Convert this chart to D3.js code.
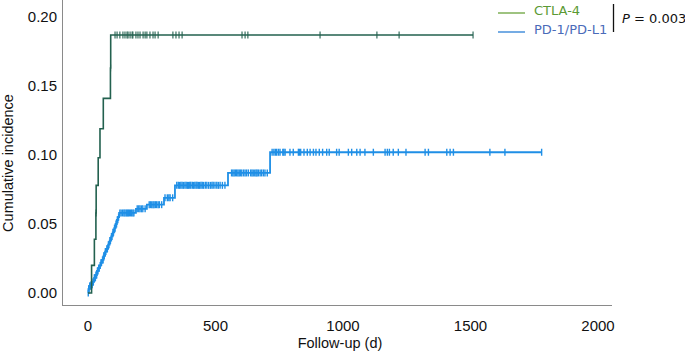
<!DOCTYPE html>
<html>
<head>
<meta charset="utf-8">
<script src="https://cdn.jsdelivr.net/npm/d3@7"></script>
<style>
  body { margin: 0; background: #fff; }
  svg { display: block; }
  .tick-lab { font-family: "Liberation Sans", Arial, sans-serif; font-size: 15px; fill: #111; }
  .ax-title { font-family: "Liberation Sans", Arial, sans-serif; font-size: 14.5px; fill: #111; }
  .leg { font-family: "DejaVu Sans", Verdana, sans-serif; font-size: 13px; }
</style>
</head>
<body>
<div id="plot"></div>
<script>
const w = 685,
      h = 355

// tick values
const xTicks = [0, 500, 1000, 1500, 2000],
      yTicks = [0, 0.05, 0.10, 0.15, 0.20]

// CTLA-4: event days and cumulative incidence after each event
const ctlaDays = [0, 14, 25, 31, 32, 40, 47, 60, 88, 89],
      ctlaInc = [0, 0.020, 0.039, 0.058, 0.078, 0.098, 0.119, 0.141, 0.163, 0.187],
      ctlaEnd = 1510,
      ctlaCensor = [31.5, 88.5, 106, 114, 125, 137, 145, 153, 157, 165, 173, 176, 188, 196, 204, 216, 224, 231,
                    243, 255, 263, 275, 333, 345, 357, 369, 604, 616, 627, 910, 1133, 1220, 1510]

// PD-1/PD-L1
const pdDays = [0, 2, 6, 12, 18, 24, 30, 35, 40, 45, 50, 55, 61, 67, 73, 79, 85, 91, 97, 103, 108, 113, 118, 122,
                188, 231, 298, 341, 549, 714],
      pdInc = [0, 0.003, 0.005, 0.006, 0.008, 0.011, 0.013, 0.016, 0.018, 0.020, 0.022, 0.024, 0.027, 0.030, 0.032,
               0.035, 0.038, 0.041, 0.044, 0.047, 0.050, 0.053, 0.055, 0.058,
               0.061, 0.064, 0.069, 0.078, 0.087, 0.102],
      pdEnd = 1779,
      pdCensor = [1, 3, 4, 7, 8, 11, 12, 15, 16, 20, 21, 25, 26, 29, 31, 34, 37, 39, 42, 44, 48, 51, 53, 57, 59, 62,
                  64, 68, 70, 74, 76, 80, 82, 86, 88, 92, 94, 98, 100, 104, 106, 110, 112, 115, 117, 120,
                  125, 130, 136, 141, 145, 150, 154, 158, 162, 167, 171, 176, 180,
                  193, 199, 204, 210, 215, 224,
                  240, 245, 250, 255, 259, 264, 269, 275, 280, 289,
                  302, 311, 317, 322, 332,
                  348, 354, 359, 364, 369, 374, 380, 385, 390, 394, 399, 403, 409, 414, 419, 424, 428, 433, 438,
                  443, 448, 453, 460, 466, 473, 480, 486, 491, 498, 505, 511, 518, 527, 537,
                  563, 568, 573, 578, 583, 588, 593, 598, 603, 610, 616, 622, 629, 638, 643, 648, 654, 659, 663,
                  668, 675, 681, 688, 694, 703,
                  722, 729, 735, 740, 747, 753, 764, 768, 773, 792, 805, 825, 829, 834, 847, 860, 871, 884, 894,
                  907, 920, 936, 946, 975, 985, 1021, 1034, 1054, 1067, 1086, 1119, 1165, 1174, 1182, 1197,
                  1217, 1247, 1322, 1335, 1407, 1420, 1433, 1576, 1635, 1779]

const x = d3.scaleLinear().domain([0, 2000]).range([88, 598]),
      y = d3.scaleLinear().domain([0, 0.2]).range([293, 17])

const svg = d3.select("#plot").append("svg")
  .attr("width", w)
  .attr("height", h)

// frame lines (left + bottom)
svg.append("line")
  .attr("x1", 62.5).attr("x2", 62.5).attr("y1", 0).attr("y2", 305.5)
  .attr("stroke", "#8a8a8a").attr("stroke-width", 1)
svg.append("line")
  .attr("x1", 62).attr("x2", 612).attr("y1", 305.5).attr("y2", 305.5)
  .attr("stroke", "#8a8a8a").attr("stroke-width", 1)

// tick labels
svg.selectAll(".ylab").data(yTicks).enter().append("text")
  .attr("class", "tick-lab")
  .attr("x", 57)
  .attr("y", d => y(d))
  .attr("dy", "0.36em")
  .attr("text-anchor", "end")
  .text(d => d3.format(".2f")(d))

svg.selectAll(".xlab").data(xTicks).enter().append("text")
  .attr("class", "tick-lab")
  .attr("x", d => x(d))
  .attr("y", 331)
  .attr("text-anchor", "middle")
  .text(d => d)

svg.append("text")
  .attr("class", "ax-title")
  .attr("x", 340).attr("y", 348)
  .attr("text-anchor", "middle")
  .text("Follow-up (d)")

svg.append("text")
  .attr("class", "ax-title")
  .attr("transform", "translate(13,163) rotate(-90)")
  .attr("text-anchor", "middle")
  .text("Cumulative incidence")

// step curve helper
const stepPts = (days, inc, end) => {
  const pts = days.map((d, i) => [d, inc[i]])
  pts.push([end, inc[inc.length - 1]])
  return pts
}
const valueAt = (days, inc, t) => {
  let v = inc[0]
  for (let i = 0; i < days.length; i++) if (days[i] <= t) v = inc[i]
  return v
}
const line = d3.line().x(d => x(d[0])).y(d => y(d[1])).curve(d3.curveStepAfter)

const series = [
  {days: pdDays, inc: pdInc, end: pdEnd, censor: pdCensor, color: "#1f8fe6", lw: 1.8, cw: 1.4},
  {days: ctlaDays, inc: ctlaInc, end: ctlaEnd, censor: ctlaCensor, color: "#23614f", lw: 1.6, cw: 1.1}
]

series.forEach(s => {
  svg.append("path")
    .datum(stepPts(s.days, s.inc, s.end))
    .attr("fill", "none")
    .attr("stroke", s.color)
    .attr("stroke-width", s.lw)
    .attr("d", line)

  svg.append("g").selectAll("line").data(s.censor).enter().append("line")
    .attr("x1", d => x(d)).attr("x2", d => x(d))
    .attr("y1", d => y(valueAt(s.days, s.inc, d)) - 3.5)
    .attr("y2", d => y(valueAt(s.days, s.inc, d)) + 3.5)
    .attr("stroke", s.color)
    .attr("stroke-width", s.cw)
})

// legend
const legend = [
  {name: "CTLA-4", line: "#6aa23c", text: "#5b9a34", y: 13},
  {name: "PD-1/PD-L1", line: "#2b7fd6", text: "#4a6bb9", y: 32}
]
legend.forEach(l => {
  svg.append("line")
    .attr("x1", 498).attr("x2", 525).attr("y1", l.y).attr("y2", l.y)
    .attr("stroke", l.line).attr("stroke-width", 1.3)
  svg.append("text")
    .attr("class", "leg")
    .attr("x", 534).attr("y", l.y + 2)
    .attr("fill", l.text)
    .text(l.name)
})

svg.append("line")
  .attr("x1", 613.5).attr("x2", 613.5).attr("y1", 4).attr("y2", 32)
  .attr("stroke", "#111").attr("stroke-width", 1.3)

const pText = svg.append("text")
  .attr("class", "leg")
  .attr("x", 622).attr("y", 23)
  .attr("fill", "#111")
pText.append("tspan").attr("font-style", "italic").text("P")
pText.append("tspan").text(" = 0.003")
</script>
</body>
</html>
